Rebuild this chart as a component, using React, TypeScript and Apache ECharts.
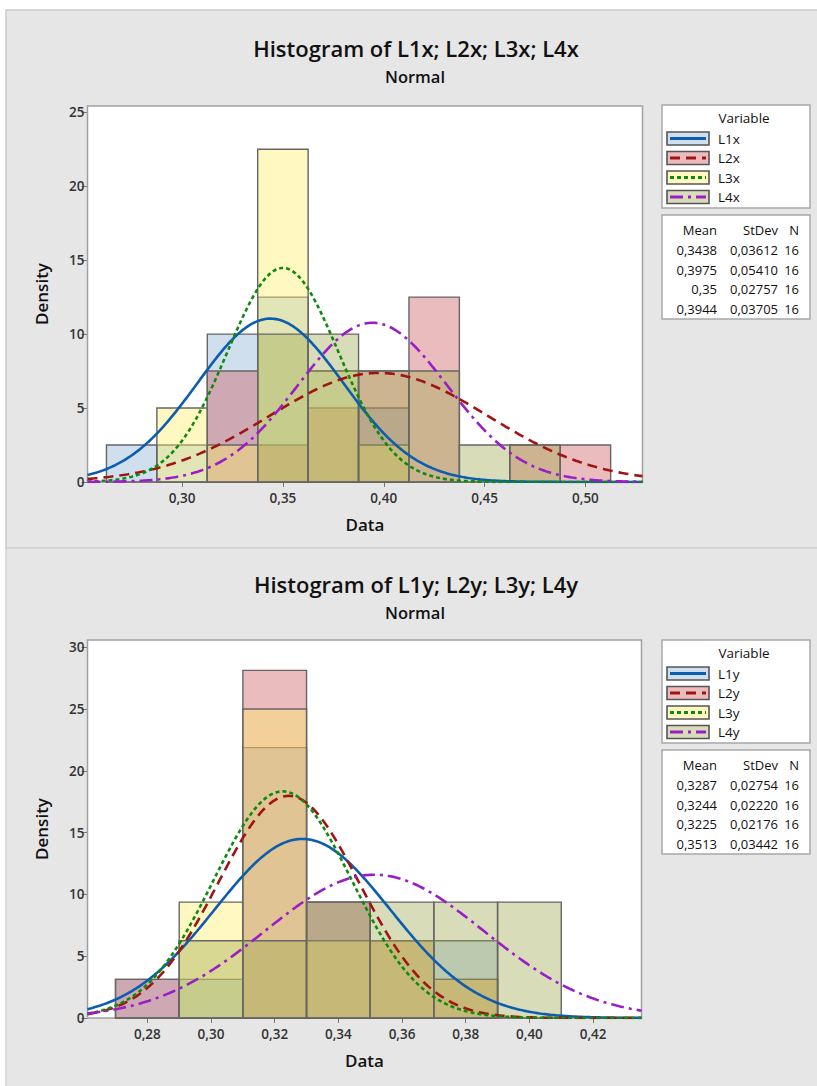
import React, { useEffect, useRef } from "react";
import * as echarts from "echarts";

// ---------- data ----------
const topBinCenters = [0.275, 0.3, 0.325, 0.35, 0.375, 0.4, 0.425, 0.45, 0.475, 0.5];
const topBinWidth = 0.025;
const densityL1x = [2.5, 2.5, 10, 12.5, 7.5, 5, 0, 0, 0, 0];
const densityL2x = [0, 0, 7.5, 2.5, 5, 7.5, 12.5, 0, 2.5, 2.5];
const densityL3x = [0, 5, 2.5, 22.5, 7.5, 2.5, 0, 0, 0, 0];
const densityL4x = [0, 0, 0, 10, 10, 7.5, 7.5, 2.5, 2.5, 0];

const bottomBinCenters = [0.28, 0.3, 0.32, 0.34, 0.36, 0.38, 0.4];
const bottomBinWidth = 0.02;
const densityL1y = [3.125, 3.125, 21.875, 9.375, 6.25, 6.25, 0];
const densityL2y = [3.125, 0, 28.125, 9.375, 6.25, 3.125, 0];
const densityL3y = [0, 9.375, 25, 6.25, 6.25, 3.125, 0];
const densityL4y = [0, 6.25, 6.25, 9.375, 9.375, 9.375, 9.375];

const topVariables = ["L1x", "L2x", "L3x", "L4x"];
const topMeans = [0.3438, 0.3975, 0.35, 0.3944];
const topStDevs = [0.03612, 0.0541, 0.02757, 0.03705];
const topMeanLabels = ["0,3438", "0,3975", "0,35", "0,3944"];
const topStDevLabels = ["0,03612", "0,05410", "0,02757", "0,03705"];
const topN = ["16", "16", "16", "16"];

const bottomVariables = ["L1y", "L2y", "L3y", "L4y"];
const bottomMeans = [0.3287, 0.3244, 0.3225, 0.3513];
const bottomStDevs = [0.02754, 0.0222, 0.02176, 0.03442];
const bottomMeanLabels = ["0,3287", "0,3244", "0,3225", "0,3513"];
const bottomStDevLabels = ["0,02754", "0,02220", "0,02176", "0,03442"];
const bottomN = ["16", "16", "16", "16"];

const topXTicks = [0.3, 0.35, 0.4, 0.45, 0.5];
const topYTicks = [0, 5, 10, 15, 20, 25];
const bottomXTicks = [0.28, 0.3, 0.32, 0.34, 0.36, 0.38, 0.4, 0.42];
const bottomYTicks = [0, 5, 10, 15, 20, 25, 30];

const topTitle = "Histogram of L1x; L2x; L3x; L4x";
const bottomTitle = "Histogram of L1y; L2y; L3y; L4y";
const subTitle = "Normal";

// ---------- styling ----------
const FONT = "'Open Sans', 'Noto Sans', sans-serif";
const barFills = [
  "rgba(135,175,212,0.4)",
  "rgba(205,88,92,0.4)",
  "rgba(255,237,98,0.4)",
  "rgba(157,167,77,0.4)",
];
const swatchFills = ["#cfdfee", "#ebbcbe", "#fff8c0", "#d8dcb8"];
const curveColors = ["#0c5cb0", "#a01414", "#0e8a0e", "#9a1ec8"];
const curveDashes: (number[] | null)[] = [null, [10, 6], [4, 3], [13, 5, 3, 5]];

const topRange = { xMin: 0.2531, xMax: 0.5283, yMax: 25.42 };
const bottomRange = { xMin: 0.2612, xMax: 0.4352, yMax: 30.58 };

function normalCurve(mean: number, sd: number, min: number, max: number) {
  const pts: number[][] = [];
  const n = 300;
  for (let i = 0; i <= n; i++) {
    const x = min + ((max - min) * i) / n;
    const z = (x - mean) / sd;
    pts.push([x, Math.exp(-0.5 * z * z) / (sd * Math.sqrt(2 * Math.PI))]);
  }
  return pts;
}

const fmt = (v: number) => v.toFixed(2).replace(".", ",");

function panelSeries(
  idx: number,
  centers: number[],
  width: number,
  densities: number[][],
  means: number[],
  sds: number[],
  range: { xMin: number; xMax: number }
) {
  const s: any[] = [];
  densities.forEach((d, v) => {
    s.push({
      type: "custom",
      xAxisIndex: idx,
      yAxisIndex: idx,
      z: 2,
      silent: true,
      encode: { x: [0, 1], y: 2 },
      data: centers.map((c, i) => [c - width / 2, c + width / 2, d[i]]),
      renderItem: (params: any, api: any) => {
        const h = api.value(2);
        if (!h) return null;
        const p0 = api.coord([api.value(0), h]);
        const p1 = api.coord([api.value(1), 0]);
        return {
          type: "rect",
          shape: { x: p0[0], y: p0[1], width: p1[0] - p0[0], height: p1[1] - p0[1] },
          style: { fill: barFills[v], stroke: "#666666", lineWidth: 1.4 },
        };
      },
    });
  });
  means.forEach((m, v) => {
    s.push({
      type: "line",
      xAxisIndex: idx,
      yAxisIndex: idx,
      z: 3,
      silent: true,
      showSymbol: false,
      symbol: "none",
      data: normalCurve(m, sds[v], range.xMin, range.xMax),
      lineStyle: {
        color: curveColors[v],
        width: 2.6,
        type: curveDashes[v] || "solid",
      },
    });
  });
  return s;
}

function legendGraphics(
  dy: number,
  names: string[],
  meanL: string[],
  sdL: string[],
  nL: string[]
) {
  const g: any[] = [];
  const text = (t: string, x: number, y: number, align: string, size = 13, weight = "normal") => ({
    type: "text",
    x,
    y,
    z: 20,
    style: {
      text: t,
      fill: "#111",
      font: `${weight} ${size}px ${FONT}`,
      textAlign: align,
      align,
      textVerticalAlign: "middle",
      verticalAlign: "middle",
    },
  });
  g.push({
    type: "rect",
    z: 15,
    shape: { x: 662, y: 105 + dy, width: 148, height: 103 },
    style: { fill: "#fff", stroke: "#a8a8a8", lineWidth: 1.5 },
  });
  g.push(text("Variable", 744, 118 + dy, "center", 13.5));
  const rows = [138.5, 158, 177.5, 197];
  names.forEach((n, i) => {
    const cy = rows[i] + dy;
    g.push({
      type: "rect",
      z: 16,
      shape: { x: 667, y: cy - 6.5, width: 42, height: 13 },
      style: { fill: swatchFills[i], stroke: "#555", lineWidth: 1.6 },
    });
    g.push({
      type: "line",
      z: 17,
      shape: { x1: 670, y1: cy, x2: 706, y2: cy },
      style: {
        stroke: curveColors[i],
        lineWidth: 3,
        lineDash: curveDashes[i] || undefined,
      },
    });
    g.push(text(n, 718, cy, "left", 13.5));
  });
  g.push({
    type: "rect",
    z: 15,
    shape: { x: 662, y: 215 + dy, width: 148, height: 104 },
    style: { fill: "#fff", stroke: "#a8a8a8", lineWidth: 1.5 },
  });
  g.push(text("Mean", 717, 230 + dy, "right"));
  g.push(text("StDev", 778, 230 + dy, "right"));
  g.push(text("N", 799, 230 + dy, "right"));
  const srows = [250, 269.5, 289, 308.5];
  srows.forEach((ry, i) => {
    g.push(text(meanL[i], 717, ry + dy, "right"));
    g.push(text(sdL[i], 778, ry + dy, "right"));
    g.push(text(nL[i], 799, ry + dy, "right"));
  });
  return g;
}

function titleGraphics(dy: number, title: string) {
  return [
    {
      type: "text",
      x: 416,
      y: 48 + dy,
      z: 20,
      style: {
        text: title,
        fill: "#111",
        font: `600 22px ${FONT}`,
        textAlign: "center",
        align: "center",
        textVerticalAlign: "middle",
        verticalAlign: "middle",
      },
    },
    {
      type: "text",
      x: 415,
      y: 76 + dy,
      z: 20,
      style: {
        text: subTitle,
        fill: "#111",
        font: `600 16.5px ${FONT}`,
        textAlign: "center",
        align: "center",
        textVerticalAlign: "middle",
        verticalAlign: "middle",
      },
    },
  ];
}

export default function App() {
  const ref = useRef<HTMLDivElement>(null);
  useEffect(() => {
    if (!ref.current) return;
    const chart = echarts.init(ref.current, undefined, { renderer: "svg" });

    const xAxisCommon = (range: any, ticks: number[], gridIndex: number) => ({
      type: "value",
      gridIndex,
      min: range.xMin,
      max: range.xMax,
      name: "Data",
      nameLocation: "middle",
      nameGap: 34,
      nameTextStyle: { fontFamily: FONT, fontSize: 17, fontWeight: 600, color: "#111" },
      axisLine: { show: false },
      splitLine: { show: false },
      axisTick: { show: true, customValues: ticks, length: 5, lineStyle: { color: "#777" } },
      axisLabel: {
        customValues: ticks,
        formatter: (v: number) => fmt(v),
        fontFamily: FONT,
        fontSize: 13.5,
        fontWeight: 600,
        color: "#333",
        margin: 9,
      },
    });
    const yAxisCommon = (range: any, ticks: number[], gridIndex: number) => ({
      type: "value",
      gridIndex,
      min: 0,
      max: range.yMax,
      name: "Density",
      nameLocation: "middle",
      nameGap: 38,
      nameRotate: 90,
      nameTextStyle: { fontFamily: FONT, fontSize: 17, fontWeight: 600, color: "#111" },
      axisLine: { show: false },
      splitLine: { show: false },
      axisTick: { show: true, customValues: ticks, length: 6, lineStyle: { color: "#777" } },
      axisLabel: {
        customValues: ticks,
        formatter: (v: number) => String(v),
        fontFamily: FONT,
        fontSize: 13.5,
        fontWeight: 600,
        color: "#333",
        margin: 3,
      },
    });

    const option: any = {
      animation: false,
      backgroundColor: "#ffffff",
      grid: [
        {
          left: 87.5,
          top: 106,
          width: 555,
          height: 376,
          show: true,
          backgroundColor: "#ffffff",
          borderColor: "#a0a0a0",
          borderWidth: 1.5,
          z: 1,
        },
        {
          left: 87.5,
          top: 640,
          width: 554,
          height: 378,
          show: true,
          backgroundColor: "#ffffff",
          borderColor: "#a0a0a0",
          borderWidth: 1.5,
          z: 1,
        },
      ],
      xAxis: [xAxisCommon(topRange, topXTicks, 0), xAxisCommon(bottomRange, bottomXTicks, 1)],
      yAxis: [yAxisCommon(topRange, topYTicks, 0), yAxisCommon(bottomRange, bottomYTicks, 1)],
      series: [
        ...panelSeries(
          0,
          topBinCenters,
          topBinWidth,
          [densityL1x, densityL2x, densityL3x, densityL4x],
          topMeans,
          topStDevs,
          topRange
        ),
        ...panelSeries(
          1,
          bottomBinCenters,
          bottomBinWidth,
          [densityL1y, densityL2y, densityL3y, densityL4y],
          bottomMeans,
          bottomStDevs,
          bottomRange
        ),
      ],
      graphic: [
        {
          type: "rect",
          z: -100,
          shape: { x: 6, y: 10, width: 815, height: 538 },
          style: { fill: "#e6e6e6", stroke: "#c9c9c9", lineWidth: 1.5 },
        },
        {
          type: "rect",
          z: -100,
          shape: { x: 6, y: 548, width: 815, height: 545 },
          style: { fill: "#e6e6e6", stroke: "#d2d2d2", lineWidth: 1.5 },
        },
        ...titleGraphics(0, topTitle),
        ...titleGraphics(536, bottomTitle),
        ...legendGraphics(0, topVariables, topMeanLabels, topStDevLabels, topN),
        ...legendGraphics(535, bottomVariables, bottomMeanLabels, bottomStDevLabels, bottomN),
      ],
    };
    chart.setOption(option);
    return () => chart.dispose();
  }, []);

  return (
    <div
      ref={ref}
      style={{ position: "absolute", left: 0, top: 0, width: 817, height: 1086, background: "#fff" }}
    />
  );
}
